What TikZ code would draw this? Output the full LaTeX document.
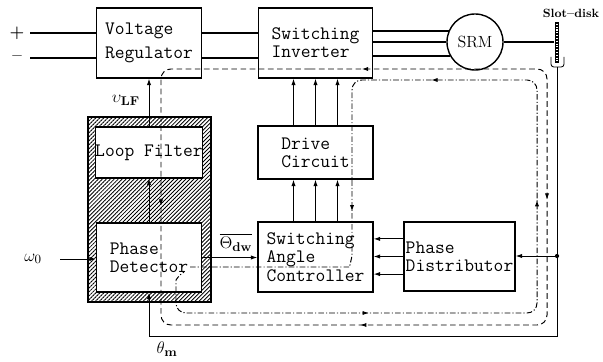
\documentclass[tikz,border=0pt]{standalone}
\usepackage{amsmath}
\usepackage{amssymb}
\usepackage{tikz}
\usetikzlibrary{arrows.meta,positioning,calc,patterns.meta,decorations.markings}

\begin{document}
\begin{tikzpicture}[x=0.025cm,y=-0.025cm,
  blk/.style={draw,line width=1pt,fill=white,align=left,inner sep=0pt,
              font=\fontsize{13.5}{13}\selectfont\ttfamily},
  hatchbox/.style={draw,line width=1pt,minimum width=3.075cm,minimum height=4.625cm,
              pattern={Lines[angle=45,distance=2pt,line width=0.6pt]}},
  sig/.style={-{Latex[length=4.5pt,width=3pt]},line width=0.6pt},
  bus/.style={line width=1.3pt},
  lbl/.style={font=\fontsize{13}{14}\selectfont,inner sep=1pt},
  dashloop/.style={line width=0.7pt,dash pattern=on 4pt off 2.5pt,rounded corners=7pt},
  dotloop/.style={line width=0.7pt,dash pattern=on 4pt off 1.5pt on 0.8pt off 1.5pt,rounded corners=7pt},
]
  \useasboundingbox (0,0) rectangle (603,361);

  % Power stage
  \node[blk,minimum width=2.625cm,minimum height=1.75cm,
        font=\fontsize{13.5}{17}\selectfont\ttfamily] (vreg) at (149,43) {Voltage\\Regulator};
  \node[blk,minimum width=2.85cm,minimum height=1.75cm] (inv) at (315.5,43) {Switching\\Inverter};
  \node[draw,circle,line width=1pt,minimum size=1.4cm,inner sep=0pt,
        font=\fontsize{11.5}{13}\selectfont] (srm) at (475,42) {SRM};
  \node[fill=black,minimum width=0.12cm,minimum height=1.025cm,inner sep=0pt] (disk) at (557,42.5) {};
  \draw[white,line width=0.8pt,dash pattern=on 0.8pt off 1.2pt]
    ([yshift=-1.5pt]disk.north) -- ([yshift=1.5pt]disk.south);
  \node[font=\fontsize{8.5}{10}\selectfont\bfseries] (disklbl) at (571,13) {Slot--disk};
  \coordinate (sens) at (557,67);
  \draw[line width=0.6pt,rounded corners=2pt] (551,57) -- (551,67) -- (564,67) -- (564,57);

  % PLL block (hatched)
  \node[hatchbox] (pll) at (149.5,209.5) {};
  \node[blk,minimum width=2.625cm,minimum height=1.275cm] (lfilt) at (149,152.5) {Loop Filter};
  \node[blk,minimum width=2.625cm,minimum height=1.725cm] (pdet) at (149,257.5) {Phase\\Detector};

  % Drive side
  \node[blk,minimum width=2.875cm,minimum height=1.325cm] (drive) at (315.5,152.5) {Drive\\Circuit};
  \node[blk,minimum width=2.875cm,minimum height=1.75cm] (sac) at (315.5,257) {Switching\\Angle\\Controller};
  \node[blk,minimum width=2.775cm,minimum height=1.725cm] (pdist) at (459.5,256.5) {Phase\\Distributor};

  % Supply and power lines
  \node[font=\bfseries\fontsize{12}{12}\selectfont] (plus) at (17,33) {+};
  \node[font=\bfseries\fontsize{12}{12}\selectfont] (minus) at (17,58) {--};
  \draw[bus] (plus) ++(13,0) -- (plus -| vreg.west);
  \draw[bus] (minus) ++(13,0) -- (minus -| vreg.west);
  \draw[bus] ([yshift=0.25cm]vreg.east) -- ([yshift=0.25cm]vreg.east -| inv.west);
  \draw[bus] ([yshift=-0.375cm]vreg.east) -- ([yshift=-0.375cm]vreg.east -| inv.west);
  \foreach \a in {157,180,210}
    \draw[bus] (srm.\a) -- (srm.\a -| inv.east);
  \draw[line width=0.8pt] (srm.east) -- (srm.east -| disk.west);

  % PLL signals
  \draw[sig] (lfilt.north) -- (vreg.south);
  \draw[sig] (pdet.north) -- (lfilt.south);
  \node[lbl] (vlf) at (126,100) {$\upsilon_{\mathbf{LF}}$};
  \node[lbl] (omega) at (33,259) {$\omega_0$};
  \draw[sig] (omega) ++(27,0) -- (omega -| pdet.west);
  \draw[sig] (pdet.east) -- (pdet.east -| sac.west);
  \node[lbl] (thdw) at (236,242) {$\overline{\Theta_{\mathbf{dw}}}$};

  % Gate signals
  \foreach \dx in {-0.55,0,0.55} {
    \draw[sig] ([xshift=\dx cm]drive.north) -- ([xshift=\dx cm]drive.north |- inv.south);
    \draw[sig] ([xshift=\dx cm]sac.north) -- ([xshift=\dx cm]sac.north |- drive.south);
  }
  \foreach \dy in {0.44,0,-0.44}
    \draw[sig] ([yshift=\dy cm]pdist.west) -- ([yshift=\dy cm]pdist.west -| sac.east);

  % Position feedback
  \coordinate (tap) at (557,256);
  \coordinate (corner) at (149,336);
  \draw[sig] (sens) |- (corner) -- (pdet.south);
  \fill (tap) circle (1.5pt);
  \draw[sig] (tap) -- (tap -| pdist.east);
  \node[lbl] (thm) at (167,349) {$\theta_{\mathbf{m}}$};

  % Loops
  \draw[dashloop,postaction={decorate},decoration={markings,
      mark=at position 0.041 with {\arrowreversed{Latex[length=4.5pt,width=3pt]}},
      mark=at position 0.287 with {\arrow{Latex[length=4.5pt,width=3pt]}},
      mark=at position 0.53 with {\arrow{Latex[length=4.5pt,width=3pt]}},
      mark=at position 0.778 with {\arrowreversed{Latex[length=4.5pt,width=3pt]}}}]
    (300,69) -- (547,69) -- (547,325) -- (161,325) -- (161,69) -- cycle;
  \draw[dotloop,postaction={decorate},decoration={markings,
      mark=at position 0.187 with {\arrowreversed{Latex[length=4.5pt,width=3pt]}},
      mark=at position 0.366 with {\arrowreversed{Latex[length=4.5pt,width=3pt]}},
      mark=at position 0.558 with {\arrowreversed{Latex[length=4.5pt,width=3pt]}},
      mark=at position 0.798 with {\arrowreversed{Latex[length=4.5pt,width=3pt]}}}]
    (190,267) -- (340,267) .. controls (349,267) and (352,258) .. (352,245)
    -- (352,80) -- (537,80) -- (537,313) -- (176,313) -- (176,290)
    .. controls (176,280) and (179,275) .. (184,272);
\end{tikzpicture}
\end{document}
